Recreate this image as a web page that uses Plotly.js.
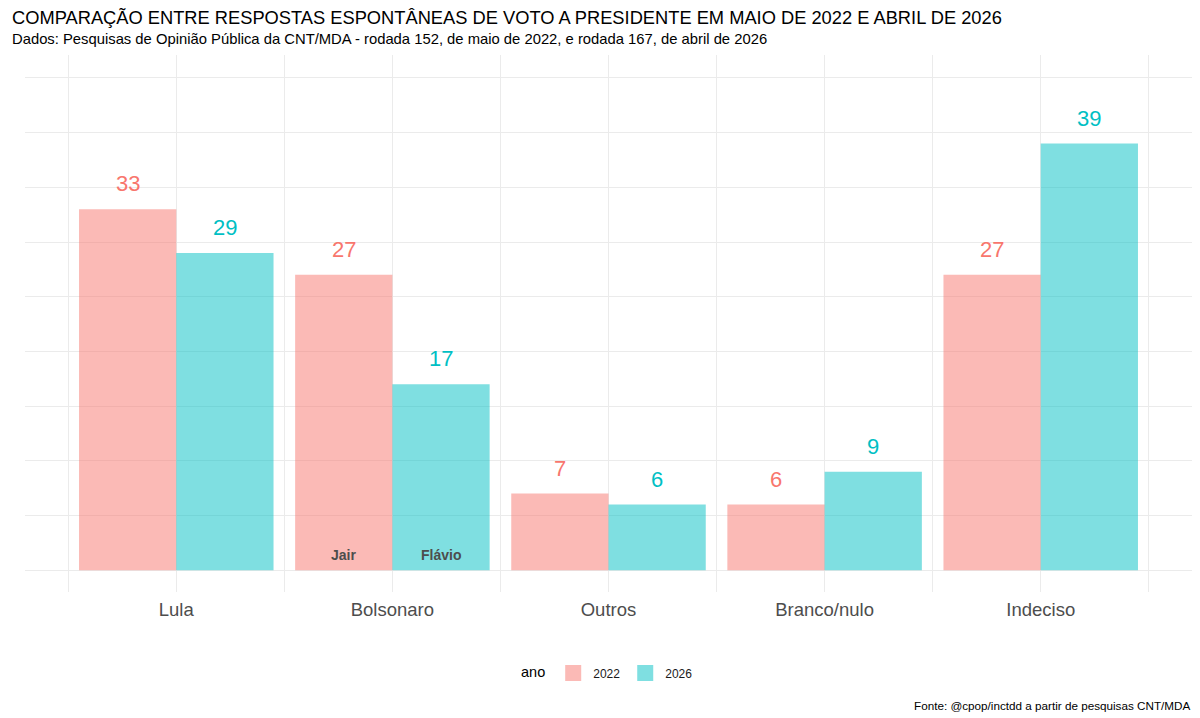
<!DOCTYPE html>
<html>
<head>
<meta charset="utf-8">
<script src="https://cdn.plot.ly/plotly-3.0.1.min.js"></script>
<style>
  body { margin: 0; background: #fff; }
  #chart { width: 1200px; height: 718px; }
</style>
</head>
<body>
<div id="chart"></div>
<script>
// data
const categorias = ["Lula", "Bolsonaro", "Outros", "Branco/nulo", "Indeciso"];
const anos = ["2022", "2026"];
const votos2022 = [33, 27, 7, 6, 27];
const votos2026 = [29, 17, 6, 9, 39];
const nomes2022 = ["", "Jair", "", "", ""];
const nomes2026 = ["", "Flávio", "", "", ""];

const COR_2022 = "#F8766D";
const COR_2026 = "#00BFC4";
const FILL_2022 = "rgba(248,118,109,0.5)";
const FILL_2026 = "rgba(0,191,196,0.5)";
const FONTE = "Liberation Sans, Arial, sans-serif";

let traces = [
    {
        type: "bar",
        name: anos[0],
        x: categorias,
        y: votos2022,
        marker: { color: FILL_2022, line: { width: 0 } },
        showlegend: false,
        hoverinfo: "skip"
    },
    {
        type: "bar",
        name: anos[1],
        x: categorias,
        y: votos2026,
        marker: { color: FILL_2026, line: { width: 0 } },
        showlegend: false,
        hoverinfo: "skip"
    }
];

// legend entries with bigger square keys, like ggplot
[FILL_2022, FILL_2026].forEach(function (cor, k) {
    traces.push({
        type: "scatter", mode: "markers", name: anos[k],
        x: [null], y: [null],
        marker: { symbol: "square", size: 17, color: cor },
        hoverinfo: "skip"
    });
});

// invisible trace so xaxis2 (boundary grid) is drawn
traces.push({
    type: "scatter", x: [0], y: [0], xaxis: "x2", yaxis: "y",
    mode: "markers", marker: { opacity: 0 }, showlegend: false, hoverinfo: "skip"
});

// value labels above bars, names inside at the bottom
let annotations = [];
categorias.forEach(function (c, i) {
    annotations.push({
        x: i - 0.225, y: votos2022[i], xref: "x", yref: "y",
        text: String(votos2022[i]), showarrow: false,
        yanchor: "bottom", yshift: 11,
        font: { family: FONTE, size: 22, color: COR_2022 }
    });
    annotations.push({
        x: i + 0.225, y: votos2026[i], xref: "x", yref: "y",
        text: String(votos2026[i]), showarrow: false,
        yanchor: "bottom", yshift: 11,
        font: { family: FONTE, size: 22, color: COR_2026 }
    });
    if (nomes2022[i]) {
        annotations.push({
            x: i - 0.225, y: 0, xref: "x", yref: "y",
            text: "<b>" + nomes2022[i] + "</b>", showarrow: false,
            yanchor: "bottom", yshift: 5,
            font: { family: FONTE, size: 14, color: "#4D4D4D" }
        });
    }
    if (nomes2026[i]) {
        annotations.push({
            x: i + 0.225, y: 0, xref: "x", yref: "y",
            text: "<b>" + nomes2026[i] + "</b>", showarrow: false,
            yanchor: "bottom", yshift: 5,
            font: { family: FONTE, size: 14, color: "#4D4D4D" }
        });
    }
});

// title, subtitle and caption
annotations.push({
    x: 0, xref: "paper", xanchor: "left", xshift: -15,
    y: 1, yref: "paper", yanchor: "middle", yshift: 55 - 17,
    showarrow: false,
    text: "COMPARAÇÃO ENTRE RESPOSTAS ESPONTÂNEAS DE VOTO A PRESIDENTE EM MAIO DE 2022 E ABRIL DE 2026",
    font: { family: FONTE, size: 18.3, color: "#000" }
});
annotations.push({
    x: 0, xref: "paper", xanchor: "left", xshift: -15,
    y: 1, yref: "paper", yanchor: "middle", yshift: 55 - 39,
    showarrow: false,
    text: "Dados: Pesquisas de Opinião Pública da CNT/MDA - rodada 152, de maio de 2022, e rodada 167, de abril de 2026",
    font: { family: FONTE, size: 14.8, color: "#000" }
});
annotations.push({
    x: 1, xref: "paper", xanchor: "right",
    y: 0, yref: "paper", yanchor: "middle",
    yshift: -(705 - 592),
    showarrow: false,
    text: "Fonte: @cpop/inctdd a partir de pesquisas CNT/MDA",
    font: { family: FONTE, size: 11.7, color: "#000" }
});

let layout = {
    width: 1200,
    height: 718,
    paper_bgcolor: "#fff",
    plot_bgcolor: "#fff",
    margin: { l: 25, r: 8, t: 55, b: 126 },
    barmode: "group",
    bargap: 0.1,
    bargroupgap: 0,
    showlegend: true,
    font: { family: FONTE, color: "#000" },
    xaxis: {
        type: "category",
        range: [-0.7, 4.7],
        showgrid: true,
        gridcolor: "#EBEBEB",
        gridwidth: 1,
        zeroline: false,
        showline: false,
        ticks: "",
        ticklabelstandoff: 4,
        tickfont: { family: FONTE, size: 18.5, color: "#4D4D4D" },
        fixedrange: true
    },
    xaxis2: {
        overlaying: "x",
        range: [-0.7, 4.7],
        tick0: 0.5,
        dtick: 1,
        showgrid: true,
        gridcolor: "#EBEBEB",
        gridwidth: 1,
        showticklabels: false,
        zeroline: false,
        layer: "below traces"
    },
    yaxis: {
        range: [-2.0, 47.1],
        dtick: 5,
        showgrid: true,
        gridcolor: "#EBEBEB",
        gridwidth: 1,
        zeroline: false,
        showticklabels: false,
        ticks: "",
        fixedrange: true
    },
    legend: {
        orientation: "h",
        x: 0.5, xanchor: "center",
        y: -(673 - 592) / (718 - 55 - 126), yanchor: "middle",
        title: { text: "ano", side: "left", font: { family: FONTE, size: 14.5, color: "#000" } },
        font: { family: FONTE, size: 12, color: "#1A1A1A" },
        itemwidth: 30,
        traceorder: "normal"
    },
    annotations: annotations
};

Plotly.newPlot("chart", traces, layout, { displayModeBar: false, staticPlot: true });
</script>
</body>
</html>
